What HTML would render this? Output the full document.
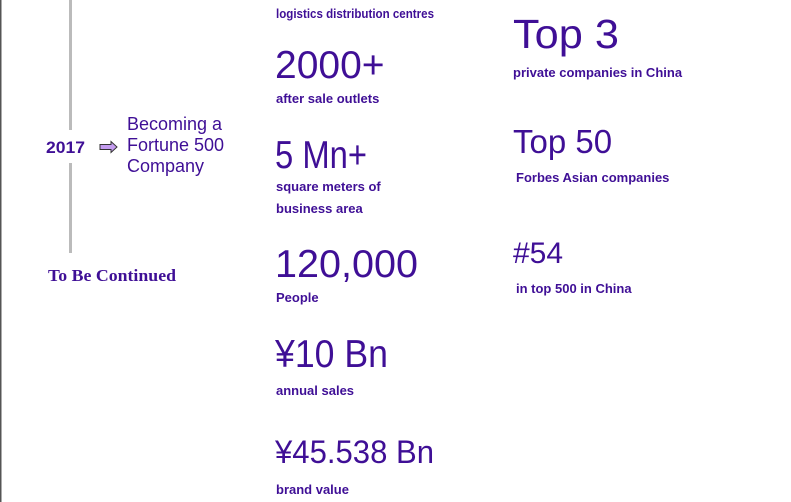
<!DOCTYPE html>
<html><head><meta charset="utf-8"><style>
html,body{margin:0;padding:0;background:#fff;}
svg{display:block;}
text{font-family:"Liberation Sans",Arial,sans-serif;fill:#3f0f96;}
.b{font-weight:bold;font-size:13px;}
</style></head><body>
<svg width="791" height="502" viewBox="0 0 791 502">
<rect x="0" y="0" width="1.5" height="502" fill="#555"/>
<rect x="69" y="0" width="3" height="130" fill="#bbb"/>
<rect x="69" y="163" width="3" height="90" fill="#bbb"/>
<text x="46" y="153" font-weight="bold" font-size="17" textLength="39" lengthAdjust="spacingAndGlyphs">2017</text>
<path d="M100 144.5 H111 V141.5 L117 147 L111 152.5 V149.5 H100 Z" fill="#c49cf0" stroke="#333" stroke-width="1"/>
<g font-size="18">
<text x="127" y="130">Becoming a</text>
<text x="127" y="151">Fortune 500</text>
<text x="127" y="172">Company</text>
</g>
<text x="48" y="281" textLength="128" lengthAdjust="spacingAndGlyphs" style="font-family:'Liberation Serif',serif;font-weight:bold;font-size:17px">To Be Continued</text>

<text class="b" x="276" y="18" textLength="158" lengthAdjust="spacingAndGlyphs">logistics distribution centres</text>
<text x="275" y="78" font-size="39">2000+</text>
<text class="b" x="276" y="103">after sale outlets</text>
<text x="275" y="168" font-size="39" textLength="92" lengthAdjust="spacingAndGlyphs">5 Mn+</text>
<text class="b" x="276" y="191">square meters of</text>
<text class="b" x="276" y="213">business area</text>
<text x="275" y="277" font-size="39" textLength="143" lengthAdjust="spacingAndGlyphs">120,000</text>
<text class="b" x="276" y="302">People</text>
<text x="275" y="367" font-size="39" textLength="113" lengthAdjust="spacingAndGlyphs">¥10 Bn</text>
<text class="b" x="276" y="395">annual sales</text>
<text x="275" y="463" font-size="32" textLength="159" lengthAdjust="spacingAndGlyphs">¥45.538 Bn</text>
<text class="b" x="276" y="494">brand value</text>

<text x="513" y="48" font-size="41" textLength="106" lengthAdjust="spacingAndGlyphs">Top 3</text>
<text class="b" x="513" y="77">private companies in China</text>
<text x="513" y="153" font-size="33">Top 50</text>
<text class="b" x="516" y="182">Forbes Asian companies</text>
<text x="513" y="263" font-size="30">#54</text>
<text class="b" x="516" y="293">in top 500 in China</text>
</svg>
</body></html>
